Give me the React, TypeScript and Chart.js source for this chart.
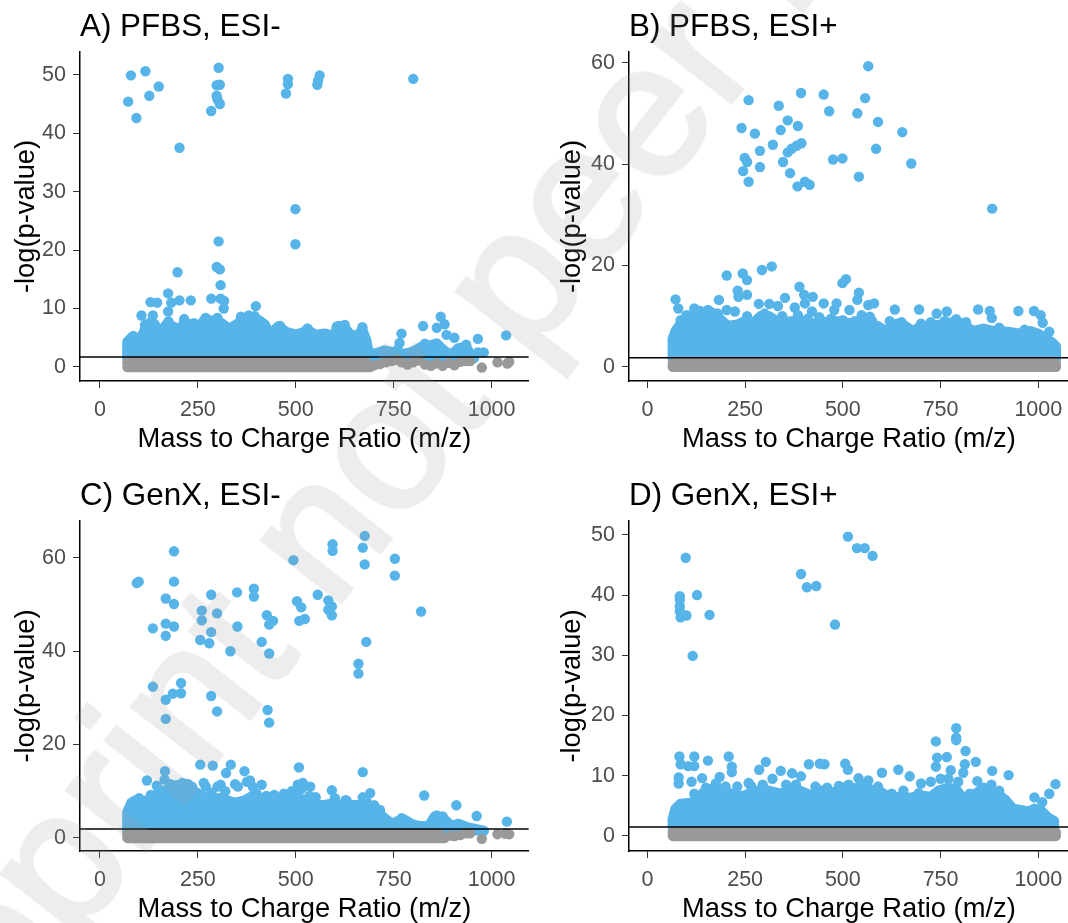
import React, { useEffect, useRef } from "react";
import { Chart, registerables } from "chart.js";

Chart.register(...registerables);

type P = [number, number];

const xTicks = [0, 250, 500, 750, 1000];

const outliersA: P[] = [[72,45.4],[79,49.9],[116,50.6],[93,42.6],[126,46.4],[150,48],[203,37.5],[284,43.8],[303,51.2],[298,48.2],[306,48.3],[298,46.4],[300,45.8],[306,45],[480,49.3],[480,48.4],[475,46.8],[561,49.9],[557,49],[555,48.3],[800,49.3],[499,27],[499,21],[303,21.5],[298,17.1],[306,16.7],[198,16.2],[308,14],[174,12.6],[129,11.1],[146,11],[182,11],[203,11.4],[232,11.4],[284,11.7],[308,11.7],[317,11.3],[316,10],[398,10.4],[106,8.8],[135,8.8],[174,9.5],[770,5.7],[765,4.1],[825,7],[860,6.7],[870,8.6],[880,7.3],[885,5.5],[905,5],[935,3.8],[965,4.8],[965,2.5],[980,2.5],[1037,5.4],[115,7.2],[125,7.5],[140,7.3],[175,7.8],[215,8.2],[240,7.5],[270,8.4],[300,8.4],[360,8.6],[380,8.8],[395,8.7],[410,7.8],[460,7],[530,6.6],[610,7],[625,7.2],[670,6.8],[760,3],[830,4]];
const cloudA: P[] = [[70,1.5],[70,4.3],[85,5.3],[100,4.2],[115,6.4],[135,7],[150,5.5],[170,7.3],[190,6.8],[205,6],[215,7.7],[235,7],[255,6.8],[265,7.9],[290,7.9],[310,7.5],[330,6.5],[350,7.3],[365,8.3],[385,8.3],[400,8.2],[420,7.3],[435,5.5],[455,6.9],[475,6],[500,5.5],[515,5.8],[530,6.3],[550,5.5],[575,5.7],[600,5.2],[605,6.9],[620,7],[640,5.5],[655,5.2],[670,6.3],[680,4.5],[685,2.6],[700,2.2],[725,2.8],[750,2.5],[770,2.2],[790,2.4],[805,2.8],[825,3.6],[840,3.6],[860,4],[875,3],[890,2.2],[905,2.5],[915,3.2],[935,3.4],[945,2.2],[955,1.5]];
const grayBandA: P[] = [[70,0],[690,0]];
const grayLooseA: P[] = [[70,0.8],[700,0.3],[715,0.5],[730,0.8],[745,1],[760,1.2],[770,0.8],[785,0.4],[800,0.8],[815,1.1],[830,0.4],[845,0.2],[860,0.6],[875,0.2],[890,0.7],[905,0.3],[920,0.9],[935,1],[945,1],[975,-0.1],[1015,0.8],[1040,0.6],[1045,0.9]];

const outliersB: P[] = [[259,52.6],[336,51.5],[393,54],[451,53.7],[565,59.3],[557,53],[465,50.4],[537,50],[590,48.3],[652,46.3],[359,48.6],[385,47.5],[341,46.7],[241,47.1],[275,46],[321,43.8],[394,44.1],[382,43.6],[369,43],[359,42.3],[288,42.6],[585,43],[249,41.2],[255,40.4],[347,40.4],[475,40.9],[499,41.1],[675,40.1],[245,38.6],[288,39.4],[365,38.2],[541,37.5],[259,36.5],[384,35.6],[403,36.5],[415,35.9],[882,31.2],[318,19.8],[293,19.1],[203,18],[244,18.4],[255,17.1],[389,15.8],[508,17.3],[499,16.5],[231,15],[255,14.2],[233,13.8],[183,13.2],[72,13.3],[79,11.5],[352,13.6],[401,14.2],[423,13.8],[541,14.6],[537,13.2],[403,12.5],[451,12.5],[484,12.5],[565,12.2],[580,12.5],[633,11.3],[695,11.3],[740,10.5],[766,10.9],[846,11.3],[876,11],[949,11],[989,11],[1006,10.2],[1011,8.7],[1028,6.9],[881,9.6],[120,11.5],[155,11.2],[203,11.2],[224,10.9],[285,12.4],[312,12.4],[334,12],[377,11.7],[421,10.9],[517,11.2],[478,11.2],[548,10.2],[569,9.9],[85,9.2],[100,10.2],[135,11],[165,10.7],[180,10.5],[255,10],[300,10.5],[325,9],[345,10],[385,10.2],[410,9.5],[440,9.8],[470,9.5],[500,9.2],[530,9],[575,9],[620,9],[650,8.8],[700,8.5],[725,8.8],[760,9],[790,9.4],[815,8.8],[900,7.7],[965,7.3]];
const cloudB: P[] = [[65,1.5],[65,5.5],[72,7],[90,9],[105,10],[125,10.5],[145,10.3],[165,10],[185,9.5],[205,8],[230,8.3],[250,9],[270,8.5],[290,10],[310,10],[330,9],[350,8.8],[375,9],[400,9],[425,8.5],[450,8.8],[480,9],[505,8.7],[530,8.5],[560,8.5],[590,8],[610,7],[640,8.5],[660,8],[680,7],[700,8],[730,8],[760,8.5],[785,8.8],[810,8.5],[830,7],[860,7.5],[885,7],[910,7],[930,6.8],[955,6.5],[980,7],[1000,6.5],[1020,5.5],[1035,4.8],[1045,4],[1045,1.5]];
const grayBandB: P[] = [[65,0],[1045,0]];
const grayLooseB: P[] = [[65,0.6],[1045,0.6]];

const outliersC: P[] = [[189,61.4],[99,54.9],[94,54.6],[189,54.9],[168,51.3],[189,50.1],[494,59.5],[594,62.9],[594,61.5],[676,64.7],[671,62.2],[676,58.6],[753,59.8],[753,56.2],[284,52.1],[350,52.6],[393,53.4],[393,51.7],[556,52.1],[583,50.9],[503,50.7],[514,49.4],[592,49.6],[583,48.9],[592,47.7],[260,48.7],[299,48.1],[260,46.6],[426,47.7],[442,46.5],[432,45.7],[509,46.5],[523,46.9],[168,45.9],[189,45.3],[135,44.9],[351,45.3],[284,44.1],[168,43.3],[256,42.4],[279,41.7],[413,42],[680,42],[820,48.5],[333,40],[432,39.5],[660,37.3],[660,35.2],[135,32.4],[207,33.2],[207,31],[186,30.9],[168,29.6],[284,30.4],[299,27.1],[428,27.4],[432,24.7],[168,25.5],[256,15.7],[288,15.5],[334,15.7],[322,13.9],[508,15.1],[671,14.1],[166,14.3],[120,12.3],[369,14.3],[383,12.3],[413,11.4],[308,11.4],[352,11],[265,11.8],[690,9.6],[592,10.2],[828,9.1],[910,7],[962,4.7],[1039,3.5],[627,8.1],[505,11.4],[518,11.8],[537,11],[551,8.7],[671,8.7],[100,8.5],[115,8],[130,9.2],[145,11.2],[150,10],[165,12.5],[180,11.5],[195,11.3],[210,11.8],[225,11.5],[235,11],[270,11],[285,9.7],[300,11],[320,10],[345,11.5],[375,12],[390,11],[400,9.5],[425,9],[445,9.2],[470,9.5],[490,10],[515,10.5],[535,9],[600,8.5],[630,8],[680,8],[700,7],[715,6],[770,4.2],[860,4.8],[875,4.6]];
const cloudC: P[] = [[70,1.5],[70,5.5],[80,7.5],[90,8],[105,7.5],[130,7.5],[140,9],[160,10],[180,10.5],[200,11],[220,11.5],[240,10],[260,9],[280,8],[305,8.5],[325,8],[345,7.5],[370,8],[390,9],[410,8.5],[430,8],[445,8],[465,8.3],[485,8],[500,9],[520,8],[545,7],[570,7],[590,7.3],[610,7],[630,7],[650,7],[670,7],[695,6.3],[710,5.5],[730,4],[745,3],[765,3.7],[775,4],[795,3],[815,2.5],[840,2.5],[855,4.6],[870,4.5],[885,3.5],[900,2.5],[915,3],[940,2.2],[980,1.5]];
const grayBandC: P[] = [[70,0],[880,0]];
const grayLooseC: P[] = [[70,0.8],[895,0.5],[905,0.4],[920,0.6],[935,1],[945,1],[975,-0.2],[1015,0.8],[1035,0.9],[1045,0.8]];

const outliersD: P[] = [[513,49.7],[536,47.8],[556,47.8],[576,46.5],[98,46.2],[393,43.5],[408,41.3],[432,41.5],[480,35.1],[127,40],[83,39.8],[83,39.2],[83,38.1],[83,37.3],[85,36.3],[100,36.6],[159,36.7],[116,29.9],[790,17.9],[790,16.3],[790,15.9],[738,15.7],[814,14.1],[82,13.2],[120,13.2],[155,12.5],[208,13.2],[303,12.3],[741,13],[766,13.1],[840,12.3],[812,11.9],[413,11.9],[441,12],[453,11.9],[506,12],[513,11],[85,11.9],[104,11.6],[120,11.6],[216,11.5],[216,10.6],[286,11],[600,10.5],[642,11],[671,9.9],[882,10.8],[924,10.1],[738,11.5],[776,10.9],[808,10.5],[341,10.8],[370,10.4],[393,9.9],[80,9.7],[80,8.7],[113,9],[140,9.6],[185,9.8],[259,8.8],[1044,8.6],[1028,7],[990,6.4],[1010,5.6],[844,9.1],[694,7.1],[120,7],[150,8],[175,8.7],[200,8.2],[230,8.2],[265,8.3],[295,8.5],[320,9.5],[355,8.5],[380,8.5],[430,8.2],[460,8],[490,8.3],[515,8.5],[540,9.6],[565,9.2],[590,8.2],[625,7],[655,7.5],[700,8.7],[725,9],[750,9.5],[770,9.5],[795,9],[825,7],[860,8],[880,8.5],[900,7.5]];
const cloudD: P[] = [[65,1.5],[65,2.8],[72,4.5],[85,5.3],[110,5.5],[130,6],[145,7.3],[165,7.8],[190,7.5],[215,7],[240,6.5],[260,7],[285,7.5],[310,7.5],[340,7],[365,7.5],[390,7.5],[420,6.7],[445,7.5],[470,7],[490,7.6],[510,8.2],[530,7.8],[550,8.5],[575,7.5],[600,7.2],[625,6],[645,6.5],[670,6.3],[700,6.7],[725,6.5],[745,7.5],[770,8],[790,7.7],[810,6],[830,6.5],[850,7.5],[870,7.5],[895,7],[915,6],[935,4.5],[955,4.3],[975,4],[990,4.5],[1010,4],[1025,3],[1040,2.5],[1040,1.5]];
const grayBandD: P[] = [[65,0],[1045,0]];
const grayLooseD: P[] = [[65,0.6],[1045,0.6]];

const BLUE = "#56B4E9";
const GRAY = "#999999";
const FONT = "'Liberation Sans', Arial, sans-serif";
const R = 5.2;

const toXY = (a: P[]) => a.map(([x, y]) => ({ x, y }));

type PanelCfg = {
  title: string; left: number; top: number; w: number; h: number; xAxisH: number; xTitleBottom: number; yTitleTop: number;
  xMin: number; xMax: number; yMin: number; yMax: number; yStep: number; yTicksMax: number;
  cut: number; outliers: P[]; cloud: P[]; band: P[]; loose: P[];
};

const panels: PanelCfg[] = [
  { title: "A) PFBS, ESI-", left: 0, top: 0, w: 534, h: 462, xAxisH: 81, xTitleBottom: 6, yTitleTop: 9.6, xMin: -51, xMax: 1095, yMin: -2.4, yMax: 53.9, yStep: 10, yTicksMax: 50, cut: 1.7, outliers: outliersA, cloud: cloudA, band: grayBandA, loose: grayLooseA },
  { title: "B) PFBS, ESI+", left: 549, top: 0, w: 525, h: 462, xAxisH: 81, xTitleBottom: 6, yTitleTop: 6.6, xMin: -47, xMax: 1078, yMin: -2.8, yMax: 62.1, yStep: 20, yTicksMax: 60, cut: 1.8, outliers: outliersB, cloud: cloudB, band: grayBandB, loose: grayLooseB },
  { title: "C) GenX, ESI-", left: 0, top: 469, w: 534, h: 457, xAxisH: 75, xTitleBottom: 0, yTitleTop: 9.6, xMin: -51, xMax: 1095, yMin: -2.8, yMax: 67.9, yStep: 20, yTicksMax: 60, cut: 1.9, outliers: outliersC, cloud: cloudC, band: grayBandC, loose: grayLooseC },
  { title: "D) GenX, ESI+", left: 549, top: 469, w: 525, h: 457, xAxisH: 75, xTitleBottom: 0, yTitleTop: 6.6, xMin: -47, xMax: 1078, yMin: -2.5, yMax: 52.3, yStep: 10, yTicksMax: 50, cut: 1.5, outliers: outliersD, cloud: cloudD, band: grayBandD, loose: grayLooseD },
];

function Panel({ cfg }: { cfg: PanelCfg }) {
  const ref = useRef<HTMLCanvasElement>(null);
  useEffect(() => {
    const chart = new Chart(ref.current as HTMLCanvasElement, {
      type: "scatter",
      data: {
        datasets: [
          { label: "cut", data: [{ x: cfg.xMin, y: cfg.cut }, { x: cfg.xMax, y: cfg.cut }], showLine: true, borderColor: "#000", borderWidth: 1.5, pointRadius: 0, order: 0 },
          { label: "grayLoose", data: toXY(cfg.loose), backgroundColor: GRAY, borderWidth: 0, pointRadius: R, order: 1 },
          { label: "grayBand", data: toXY(cfg.band), showLine: true, borderColor: GRAY, backgroundColor: GRAY, borderWidth: R * 2, borderCapStyle: "round", pointRadius: 0, fill: { value: cfg.cut }, order: 2 },
          { label: "outliers", data: toXY(cfg.outliers), backgroundColor: BLUE, borderWidth: 0, pointRadius: R, order: 3 },
          { label: "cloud", data: toXY(cfg.cloud), showLine: true, borderColor: BLUE, backgroundColor: BLUE, borderWidth: R * 2, borderCapStyle: "round", borderJoinStyle: "round", pointRadius: 0, fill: { value: 0.5 }, order: 4 },
        ] as any,
      },
      options: {
        responsive: false,
        animation: false,
        layout: { padding: 0 },
        plugins: {
          legend: { display: false },
          tooltip: { enabled: false },
          title: {
            display: true, text: cfg.title, align: "start", fullSize: false, color: "#000",
            font: { family: FONT, size: 31.4, weight: "normal", lineHeight: 1.2 },
            padding: { top: 9, bottom: 5.3 },
          },
        },
        scales: {
          x: {
            type: "linear", min: cfg.xMin, max: cfg.xMax,
            afterFit: (s: any) => { s.height = cfg.xAxisH; s.paddingLeft = 0; s.paddingRight = 0; },
            afterBuildTicks: (s: any) => { s.ticks = xTicks.map((value) => ({ value })); },
            border: { color: "#000", width: 1.5 },
            grid: { display: true, drawOnChartArea: false, drawTicks: true, tickLength: 7, color: "#333" },
            ticks: { color: "#4d4d4d", padding: 9, maxRotation: 0, autoSkip: false, callback: (v: any) => String(v), font: { family: FONT, size: 21.5 } },
            title: { display: true, text: "Mass to Charge Ratio (m/z)", color: "#000", padding: { top: 1, bottom: cfg.xTitleBottom }, font: { family: FONT, size: 27.3 } },
          },
          y: {
            type: "linear", min: cfg.yMin, max: cfg.yMax,
            afterFit: (s: any) => { s.width = 80; s.paddingTop = 0; s.paddingBottom = 0; },
            afterBuildTicks: (s: any) => {
              const t: { value: number }[] = [];
              for (let v = 0; v <= cfg.yTicksMax; v += cfg.yStep) t.push({ value: v });
              s.ticks = t;
            },
            border: { color: "#000", width: 1.5 },
            grid: { display: true, drawOnChartArea: false, drawTicks: true, tickLength: 7, color: "#333" },
            ticks: { color: "#4d4d4d", padding: 7, callback: (v: any) => String(v), font: { family: FONT, size: 21.5 } },
            title: { display: true, text: "-log(p-value)", color: "#000", padding: { top: cfg.yTitleTop, bottom: 0 }, font: { family: FONT, size: 27.3 } },
          },
        },
      } as any,
    });
    return () => chart.destroy();
  }, [cfg]);
  return (
    <canvas
      ref={ref}
      width={cfg.w}
      height={cfg.h}
      style={{ position: "absolute", left: cfg.left, top: cfg.top, width: cfg.w, height: cfg.h }}
    />
  );
}

export default function App() {
  useEffect(() => {
    document.body.style.margin = "0";
  }, []);
  return (
    <div style={{ position: "fixed", left: 0, top: 0, width: 1068, height: 923, overflow: "hidden", background: "#fff" }}>
      {panels.map((p) => (
        <Panel key={p.title} cfg={p} />
      ))}
      <div
        style={{
          position: "absolute", left: 0, top: 0, whiteSpace: "nowrap", pointerEvents: "none",
          fontFamily: FONT, fontSize: 190, lineHeight: 1, color: "#969696", WebkitTextStroke: "4px #969696", opacity: 0.17,
          transformOrigin: "0 0",
          transform: "translate(-109px,1178px) rotate(-52deg) translateY(-0.8465em)",
        }}
      >
        Preprint not peer reviewed
      </div>
    </div>
  );
}
